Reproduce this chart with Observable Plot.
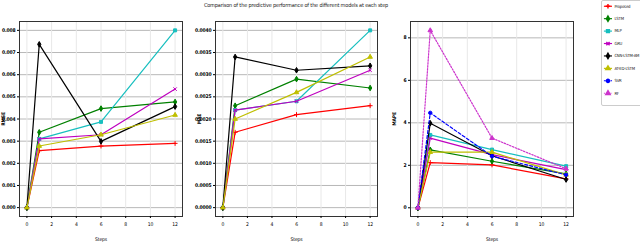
<!DOCTYPE html>
<html>
<head>
<meta charset="utf-8">
<script src="https://cdn.jsdelivr.net/npm/d3@7"></script>
<script src="https://cdn.jsdelivr.net/npm/@observablehq/plot@0.6"></script>
<style>
  html, body { margin: 0; padding: 0; background: #fff; }
  #root { position: relative; width: 640px; height: 244px; overflow: hidden; font-family: 'DejaVu Sans Condensed', 'Liberation Sans Narrow', 'DejaVu Sans', sans-serif; }
  #title { position: absolute; left: 0; width: 592px; top: 2px; text-align: center; font-size: 5.5px; letter-spacing: -0.15px; color: #222; }
  .panel { position: absolute; top: 0; }
  .panel text { letter-spacing: -0.15px; }
  #legend { position: absolute; left: 601px; top: 0px; width: 45px; height: 106px; border: 1px solid #ccc; border-radius: 2px; box-sizing: border-box; background: #fff; }
  #legend text { letter-spacing: -0.25px; }
</style>
</head>
<body>
<div id="root">
  <div id="title">Comparison of the predictive performance of the different models at each step</div>
</div>
<script>
// ---- data ----
const steps = [0, 1, 6, 12];
const models = ["Proposed", "LSTM", "MLP", "GRU", "CNN-LSTM-AM", "AT-ED-LSTM", "SVR", "RF"];
const colors = ["#ff0000", "#008000", "#17bfbf", "#bf00bf", "#000000", "#bfbf00", "#0000ff", "#cc33cc"];
const symbols = ["plus", "diamond", "square", "times", "diamond", "triangle", "circle", "triangle"];
const dashes = ["none", "none", "none", "none", "none", "none", "3,2", "1.5,1.5"];

const rmseModels = ["Proposed", "LSTM", "MLP", "GRU", "CNN-LSTM-AM", "AT-ED-LSTM"];
const rmseProposed = [0, 0.00257, 0.00278, 0.0029];
const rmseLSTM = [0, 0.0034, 0.00447, 0.00477];
const rmseMLP = [0, 0.0031, 0.00387, 0.0080];
const rmseGRU = [0, 0.0031, 0.00329, 0.00535];
const rmseCNN = [0, 0.00737, 0.00299, 0.00456];
const rmseATT = [0, 0.00278, 0.00329, 0.00418];
const rmseTicks = [0, 0.001, 0.002, 0.003, 0.004, 0.005, 0.006, 0.007, 0.008];

const maeModels = ["Proposed", "LSTM", "MLP", "GRU", "CNN-LSTM-AM", "AT-ED-LSTM"];
const maeProposed = [0, 0.0017, 0.0021, 0.0023];
const maeLSTM = [0, 0.0023, 0.0029, 0.0027];
const maeMLP = [0, 0.0022, 0.0024, 0.0040];
const maeGRU = [0, 0.0022, 0.0024, 0.0031];
const maeCNN = [0, 0.0034, 0.0031, 0.0032];
const maeATT = [0, 0.0020, 0.0026, 0.0034];
const maeTicks = [0, 0.0005, 0.001, 0.0015, 0.002, 0.0025, 0.003, 0.0035, 0.004];

const mapeModels = models;
const mapeProposed = [0, 2.13, 2.02, 1.36];
const mapeLSTM = [0, 2.73, 2.19, 1.6];
const mapeMLP = [0, 3.43, 2.74, 1.96];
const mapeGRU = [0, 3.28, 2.5, 1.8];
const mapeCNN = [0, 3.98, 2.45, 1.33];
const mapeATT = [0, 2.62, 2.62, 1.55];
const mapeSVR = [0, 4.47, 2.43, 1.55];
const mapeRF = [0, 8.35, 3.28, 1.84];
const mapeTicks = [0, 2, 4, 6, 8];

const xTicks = [0, 2, 4, 6, 8, 10, 12];

// ---- drawing ----
const root = document.getElementById("root");
const FONT = "'DejaVu Sans Condensed', 'Liberation Sans Narrow', 'DejaVu Sans', sans-serif";

function rows(names, series) {
  const out = [];
  names.forEach((m, i) => steps.forEach((s, j) => out.push({model: m, step: s, value: series[i][j]})));
  return out;
}

function panel({left, names, series, yDomain, yTicks, fmt, label, marginLeft, marginRight}) {
  const data = rows(names, series);
  const marks = [
    Plot.gridY(yTicks, {stroke: "#b8b8b8", strokeOpacity: 1, strokeWidth: 1}),
    Plot.gridX(xTicks, {stroke: "#e8e8e8", strokeOpacity: 1, strokeWidth: 1}),
    Plot.frame({stroke: "#333", strokeWidth: 1})
  ];
  names.forEach(m => {
    const i = models.indexOf(m);
    marks.push(Plot.line(data.filter(d => d.model === m), {
      x: "step", y: "value", stroke: colors[i], strokeWidth: 1.2,
      strokeDasharray: dashes[i] === "none" ? null : dashes[i]
    }));
    marks.push(Plot.dot(data.filter(d => d.model === m), {
      x: "step", y: "value", stroke: colors[i], fill: colors[i], symbol: () => symbols[i], r: 1.7, strokeWidth: 1
    }));
  });
  marks.push(Plot.axisX(xTicks, {tickSize: 2, tickPadding: 4, fontSize: 5, label: "Steps", labelAnchor: "center", labelOffset: 24, labelArrow: "none"}));
  marks.push(Plot.axisY(yTicks, {tickSize: 2, tickPadding: 2, fontSize: 5, tickFormat: fmt, label, labelAnchor: "center", labelOffset: marginLeft - 1, labelArrow: "none", fontWeight: "bold"}));
  const p = Plot.plot({
    width: 200, height: 244,
    marginLeft, marginRight, marginTop: 21, marginBottom: 28,
    x: {domain: [-0.6, 12.6]},
    y: {domain: yDomain},
    symbol: {type: "identity"},
    style: {fontSize: "5px", fontFamily: FONT, background: "transparent", overflow: "visible"},
    marks
  });
  p.classList.add("panel");
  p.style.left = left + "px";
  root.appendChild(p);
}

panel({left: 0, names: rmseModels, series: [rmseProposed, rmseLSTM, rmseMLP, rmseGRU, rmseCNN, rmseATT],
  yDomain: [-0.0004, 0.0084], yTicks: rmseTicks, fmt: d3.format(".3f"), label: "RMSE", marginLeft: 19, marginRight: 18});
panel({left: 196, names: maeModels, series: [maeProposed, maeLSTM, maeMLP, maeGRU, maeCNN, maeATT],
  yDomain: [-0.0002, 0.0042], yTicks: maeTicks, fmt: d3.format(".4f"), label: "MAE", marginLeft: 19, marginRight: 19});
panel({left: 391, names: mapeModels, series: [mapeProposed, mapeLSTM, mapeMLP, mapeGRU, mapeCNN, mapeATT, mapeSVR, mapeRF],
  yDomain: [-0.41, 8.77], yTicks: mapeTicks, fmt: d3.format("d"), label: "MAPE", marginLeft: 19, marginRight: 18});

// legend
const legDiv = document.createElement("div");
legDiv.id = "legend";
root.appendChild(legDiv);
const legData = models.map((m, i) => ({model: m, i}));
const leg = Plot.plot({
  width: 45, height: 104, margin: 0,
  x: {type: "linear", domain: [0, 45], range: [0, 45], axis: null},
  y: {type: "point", domain: models, range: [5, 96], padding: 0, axis: null},
  symbol: {type: "identity"},
  style: {fontSize: "4.5px", fontFamily: FONT, background: "transparent", overflow: "visible"},
  marks: [
    Plot.link(legData.filter(d => d.i < 6), {x1: () => 1.5, x2: () => 10, y1: "model", y2: "model", stroke: d => colors[d.i], strokeWidth: 1.2}),
    Plot.link(legData.filter(d => d.i === 6), {x1: () => 1.5, x2: () => 10, y1: "model", y2: "model", stroke: d => colors[d.i], strokeWidth: 1.2, strokeDasharray: "2,1.5"}),
    Plot.link(legData.filter(d => d.i === 7), {x1: () => 1.5, x2: () => 10, y1: "model", y2: "model", stroke: d => colors[d.i], strokeWidth: 1.2, strokeDasharray: "1,1"}),
    Plot.dot(legData, {x: () => 5.75, y: "model", stroke: d => colors[d.i], fill: d => colors[d.i], symbol: d => symbols[d.i], r: 1.7}),
    Plot.text(legData, {x: () => 12.5, y: "model", text: "model", textAnchor: "start", fill: "#222", fontSize: 4.5})
  ]
});
legDiv.appendChild(leg);
</script>
</body>
</html>
